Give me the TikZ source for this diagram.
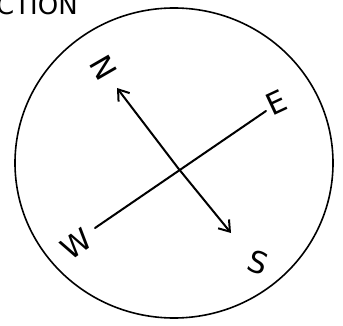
\documentclass[tikz,border=0pt]{standalone}
\usepackage{fontspec}
\setsansfont{DejaVu Sans}
\usetikzlibrary{arrows.meta}
\begin{document}
\begin{tikzpicture}[x=1pt,y=-1pt,
  ink/.style={line width=2pt,line cap=round,line join=round},
  lbl/.style={font=\sffamily\fontsize{30}{30}\selectfont,inner sep=0pt},
  tip/.style={-{Straight Barb[length=10pt,width=14pt,line width=2pt]}}]
\useasboundingbox (0,0) rectangle (343,326);
\begin{scope}
\clip (0,0) rectangle (343,326);
\node[lbl,anchor=base west,font=\sffamily\fontsize{26}{26}\selectfont] (title) at (-4,15) {CTION};
\end{scope}
\draw[ink,line width=1.6pt] (174,163) ellipse [x radius=159, y radius=155];
\coordinate (c) at (178,168);
\coordinate (ntip) at (117,88);
\coordinate (stip) at (231,233);
\coordinate (wend) at (95,228);
\coordinate (eend) at (266,111);
\draw[ink,tip] (c) -- (ntip);
\draw[ink,tip] (c) -- (stip);
\draw[ink] (wend) -- (eend);
\node[lbl,rotate=-60] (N) at (104,68) {N};
\node[lbl,rotate=25] (E) at (276,103) {E};
\node[lbl,rotate=35] (W) at (76,244) {W};
\node[lbl,rotate=-20] (S) at (258,262) {S};
\end{tikzpicture}
\end{document}
